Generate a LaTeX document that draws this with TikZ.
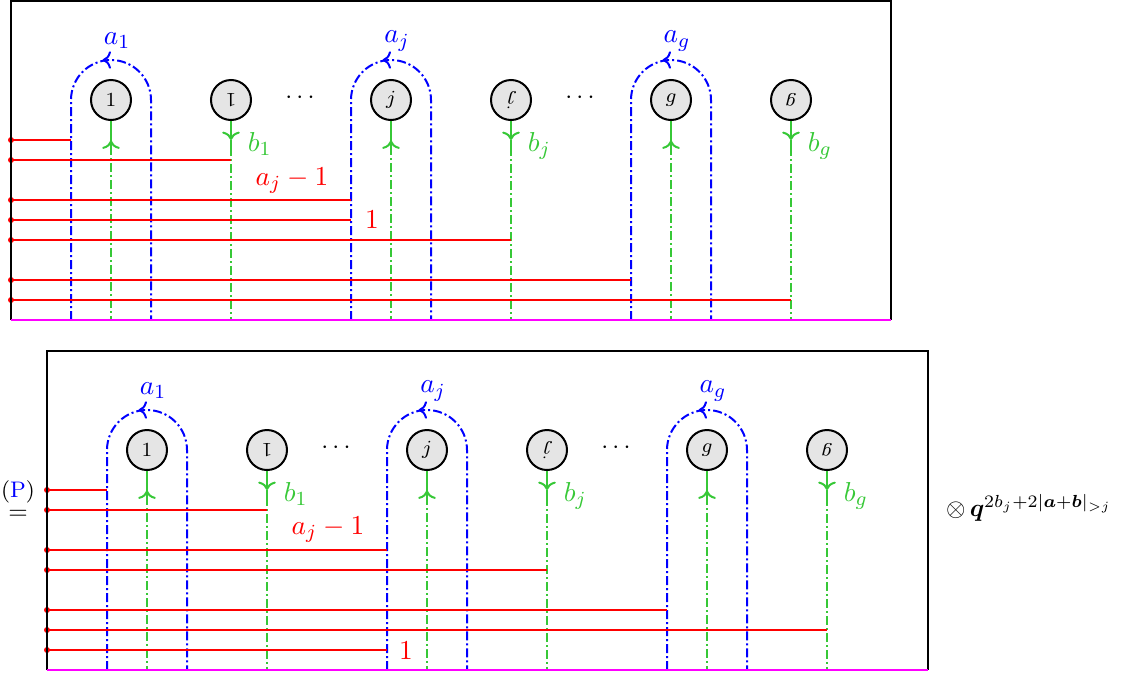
\documentclass[tikz,border=0pt]{standalone}
\usepackage{amsmath,amssymb}
\usepackage{graphicx}
\usetikzlibrary{decorations.markings,calc,arrows.meta}
\definecolor{grn}{RGB}{55,200,55}
\definecolor{mag}{RGB}{255,0,255}
\tikzset{
  frm/.style={black,line width=0.8pt},
  btm/.style={mag,line width=0.8pt},
  bl/.style={blue,line width=0.8pt,dash pattern=on 3.6pt off 1.2pt on 0.8pt off 1.2pt},
  gr/.style={grn,line width=0.8pt},
  grd/.style={gr,dash pattern=on 3.6pt off 1.2pt on 0.8pt off 1.2pt},
  rd/.style={red,line width=0.8pt},
  lbl/.style={font=\fontsize{11}{13}\selectfont},
  vtx/.style={circle,draw,fill=gray!20,line width=0.8pt,minimum size=16pt,inner sep=0pt,font=\footnotesize},
  looparrow/.style={decoration={markings,mark=at position 0.5 with {\arrow{<}}},postaction={decorate}},
}
\newcommand\mypanel{%
  \foreach \cx/\lab/\nm in {111/1/c1, 391/j/cj, 671/g/cg} {
    \node[vtx] (\nm) at (\cx,100) {$\lab$};
    \draw[bl,looparrow] (\cx-40,320) -- (\cx-40,100) arc[start angle=180,end angle=0,radius=16pt] -- (\cx+40,320);
    \draw[gr] (\nm.south) -- ($(\nm.south)+(0,25)$);
    \draw[gr,-To] ($(\nm.south)+(0,25)$) -- ($(\nm.south)+(0,19.5)$);
    \draw[grd] ($(\nm.south)+(0,25)$) -- (\cx,320);
  }
  \foreach \cx/\lab/\nm in {231/1/d1, 511/j/dj, 791/g/dg} {
    \node[vtx] (\nm) at (\cx,100) {\rotatebox[origin=c]{180}{$\lab$}};
    \draw[gr,-To] (\nm.south) -- ($(\nm.south)+(0,19)$);
    \draw[gr] ($(\nm.south)+(0,19)$) -- ($(\nm.south)+(0,26)$);
    \draw[grd] ($(\nm.south)+(0,26)$) -- (\cx,320);
  }
  \node[blue,lbl] (la1) at (117,41) {$a_1$};
  \node[blue,lbl] (laj) at (397,41) {$a_j$};
  \node[blue,lbl] (lag) at (677,41) {$a_g$};
  \node[grn,lbl,anchor=west] (lb1) at (239,144) {$b_1$};
  \node[grn,lbl,anchor=west] (lbj) at (519,146) {$b_j$};
  \node[grn,lbl,anchor=west] (lbg) at (799,146) {$b_g$};
  \node (dots1) at (302,98) {$\cdots$};
  \node (dots2) at (582,98) {$\cdots$};
}
\begin{document}
\begin{tikzpicture}[x=0.4pt,y=-0.4pt]
\useasboundingbox (0,0) rectangle (1126,674);
% top panel
\begin{scope}
  \mypanel
  \foreach \yy/\xx in {140/71,160/231,200/351,220/351,240/511,280/631,300/791} {
    \draw[rd] (11,\yy) -- (\xx,\yy);
    \fill[red] (11,\yy) circle[radius=1.2pt];
  }
  \node[red,lbl] (lam) at (292,181) {$a_j-1$};
  \node[red,lbl] (lone) at (372,220) {$1$};
  \draw[frm] (11,320) -- (11,1) -- (891,1) -- (891,320);
  \draw[btm] (11,320) -- (891,320);
\end{scope}
% bottom panel
\begin{scope}[shift={(36,350)}]
  \mypanel
  \foreach \yy/\xx in {140/71,160/231,200/351,220/511,260/631,280/791,300/351} {
    \draw[rd] (11,\yy) -- (\xx,\yy);
    \fill[red] (11,\yy) circle[radius=1.2pt];
  }
  \node[red,lbl] (lamb) at (292,180) {$a_j-1$};
  \node[red,lbl] (loneb) at (370,301) {$1$};
  \draw[frm] (11,320) -- (11,1) -- (892,1) -- (892,320);
  \draw[btm] (11,320) -- (892,320);
\end{scope}
\node[font=\small,inner sep=0pt] (eqlab) at (18,492) {(\textcolor{blue}{P})};
\node[inner sep=0pt] (eq) at (18,515) {$=$};
\node (fac) at (1029,508) {$\otimes\,\boldsymbol{q}^{2b_j+2|\boldsymbol{a}+\boldsymbol{b}|_{>j}}$};
\end{tikzpicture}
\end{document}
